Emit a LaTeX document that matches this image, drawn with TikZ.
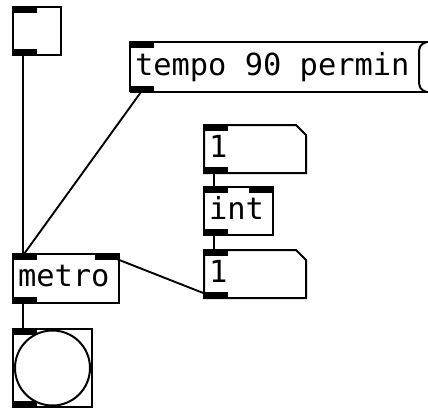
\documentclass[tikz,border=0pt]{standalone}
\usepackage{fontspec}
\usepackage{tikz}
\newfontfamily\pdmono{DejaVu Sans Mono}
\newcommand{\pdfont}{\pdmono\fontsize{30.4}{34}\selectfont}

\begin{document}
\begin{tikzpicture}[x=1pt, y=-1pt,
    pdline/.style={line width=2pt, line join=miter},
    pdobj/.style={pdline, anchor=north west, outer sep=0pt, inner xsep=5pt,
        inner ysep=0pt, font=\pdfont, text height=22pt, text depth=6pt},
    port/.style={fill=black},
    wire/.style={line width=1.9pt}]

    \useasboundingbox (0,0) rectangle (428,408);

    % Toggle, message and metro on the left
    \node[pdobj, draw, minimum width=48pt, minimum height=48pt] (tgl) at (13,7) {};
    \node[pdobj, minimum height=50pt] (msg) at (130,42) {\makebox[279pt][l]{tempo 90 permin}};
    \node[pdobj, draw, minimum height=49pt] (metro) at (13,254) {\makebox[96pt][l]{metro}};
    \node[pdobj, draw, minimum width=79pt, minimum height=78pt] (bng) at (13,329) {};
    \draw[pdline] (bng.center) circle (37.5pt);

    % Number boxes and int
    \node[pdobj, minimum height=48pt] (numtop) at (204,125) {\makebox[92pt][l]{1}};
    \node[pdobj, draw, minimum height=48pt] (int) at (204,187) {\makebox[59pt][l]{int}};
    \node[pdobj, minimum height=48pt] (numbot) at (204,250) {\makebox[92pt][l]{1}};

    % Outlines of the message box and the number boxes
    \draw[pdline] (msg.south west) -- (msg.north west) -- ([xshift=9pt]msg.north east);
    \draw[pdline] ([xshift=8pt]msg.north east)
        .. controls ([xshift=1pt,yshift=-2pt]msg.north east) and ([yshift=-5pt]msg.north east) .. ([yshift=-12pt]msg.north east)
        -- ([yshift=12pt]msg.south east)
        .. controls ([yshift=5pt]msg.south east) and ([xshift=1pt,yshift=2pt]msg.south east) .. ([xshift=8pt]msg.south east);
    \draw[pdline] ([xshift=9pt]msg.south east) -- (msg.south west);
    \foreach \n in {numtop, numbot}
        \draw[pdline] (\n.north west) -- ([xshift=-10pt]\n.north east)
            -- ([yshift=-10pt]\n.north east) -- (\n.south east) -- (\n.south west) -- cycle;

    % Inlets and outlets
    \foreach \n in {tgl, msg, metro, bng, numtop, int, numbot} {
        \fill[port] (\n.north west) rectangle ++(24,6);
        \fill[port] (\n.south west) rectangle ++(24,-6);
    }
    \fill[port] (metro.north east) rectangle ++(-24,6);
    \fill[port] (int.north east) rectangle ++(-24,6);

    % Connections
    \draw[wire] ([xshift=10pt]tgl.south west) -- ([xshift=10pt]metro.north west);
    \draw[wire] ([xshift=11pt]msg.south west) -- ([xshift=11pt]metro.north west);
    \draw[wire] ([xshift=10pt]metro.south west) -- ([xshift=10pt]bng.north west);
    \draw[wire] ([xshift=10pt]numtop.south west) -- ([xshift=10pt]int.north west);
    \draw[wire] ([xshift=10pt]int.south west) -- ([xshift=10pt]numbot.north west);
    \draw[wire] ([xshift=12pt]numbot.south west) -- ([xshift=-15pt]metro.north east);

\end{tikzpicture}
\end{document}
